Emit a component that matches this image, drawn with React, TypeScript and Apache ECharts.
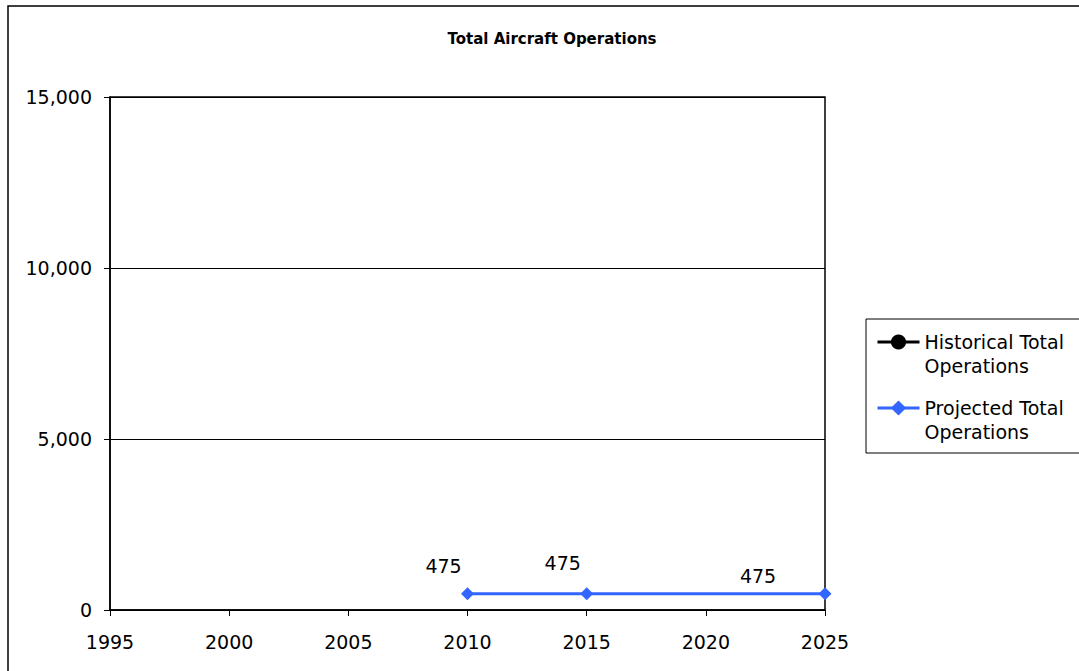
import React, { useEffect, useRef } from "react";
import * as echarts from "echarts";

const historicalYears: number[] = [];
const historicalValues: number[] = [];
const projectedYears = [2010, 2015, 2025];
const projectedValues = [475, 475, 475];
const labelOffsets: [number, number][] = [[-24, -28], [-24, -31], [-67, -18]];

const FONT = "DejaVu Sans, Liberation Sans, Arial, sans-serif";
const BLUE = "#3366FF";

export default function App() {
  const ref = useRef<HTMLDivElement>(null);
  useEffect(() => {
    if (!ref.current) return;
    const chart = echarts.init(ref.current, undefined, { renderer: "svg" });
    chart.setOption({
      animation: false,
      backgroundColor: "#fff",
      textStyle: { fontFamily: FONT },
      title: {
        text: "Total Aircraft Operations",
        left: 547,
        top: 26,
        textAlign: "center",
        textStyle: { fontSize: 15, fontWeight: "bold", color: "#000", fontFamily: FONT },
      },
      graphic: [
        { type: "rect", shape: { x: 8, y: 6, width: 1200, height: 800 }, style: { fill: "none", stroke: "#000", lineWidth: 1.5 }, z: -1 },
        { type: "rect", shape: { x: 866, y: 319, width: 300, height: 134 }, style: { fill: "none", stroke: "#000", lineWidth: 1 }, z: -1 },
      ],
      legend: {
        orient: "vertical",
        left: 876,
        top: 306,
        padding: 0,
        itemWidth: 42,
        itemHeight: 19,
        itemGap: -6,
        formatter: (name: string) => "\n" + name,
        textStyle: { fontSize: 19, lineHeight: 24, color: "#000", fontFamily: FONT },
        data: [
          { name: "Historical Total\nOperations", lineStyle: { width: 3, color: "#000" } },
          { name: "Projected Total\nOperations", lineStyle: { width: 3, color: BLUE } },
        ],
      },
      grid: {
        left: 110,
        top: 97,
        right: 254,
        bottom: 61,
        show: true,
        borderColor: "#000",
        borderWidth: 1.5,
        backgroundColor: "transparent",
      },
      xAxis: {
        type: "value",
        min: 1995,
        max: 2025,
        interval: 5,
        axisLine: { show: true, lineStyle: { color: "#000", width: 1.5 } },
        axisTick: { show: true, length: 6, lineStyle: { color: "#000" } },
        axisLabel: { fontSize: 19, color: "#000", margin: 22, fontFamily: FONT, formatter: (v: number) => String(v) },
        splitLine: { show: false },
      },
      yAxis: {
        type: "value",
        min: 0,
        max: 15000,
        interval: 5000,
        axisLine: { show: true, lineStyle: { color: "#000", width: 1.5 } },
        axisTick: { show: true, length: 6, lineStyle: { color: "#000" } },
        axisLabel: {
          fontSize: 19,
          color: "#000",
          margin: 18,
          fontFamily: FONT,
          formatter: (v: number) => v.toLocaleString("en-US"),
        },
        splitLine: { show: true, lineStyle: { color: "#000", width: 1 } },
      },
      series: [
        {
          name: "Historical Total\nOperations",
          type: "line",
          data: historicalYears.map((y, i) => [y, historicalValues[i]]),
          color: "#000",
          symbol: "circle",
          symbolSize: 11,
          lineStyle: { width: 3, color: "#000" },
        },
        {
          name: "Projected Total\nOperations",
          type: "line",
          color: BLUE,
          symbol: "diamond",
          symbolSize: 13,
          lineStyle: { width: 3, color: BLUE },
          itemStyle: { color: BLUE },
          data: projectedYears.map((y, i) => ({
            value: [y, projectedValues[i]],
            label: {
              show: true,
              position: "inside",
              offset: labelOffsets[i],
              formatter: (p: any) => String(p.value[1]),
              fontSize: 19,
              color: "#000",
              fontFamily: FONT,
            },
          })),
        },
      ],
    });
    return () => chart.dispose();
  }, []);
  return (
    <div
      ref={ref}
      style={{ position: "fixed", left: 0, top: 0, width: 1079, height: 671 }}
    />
  );
}
